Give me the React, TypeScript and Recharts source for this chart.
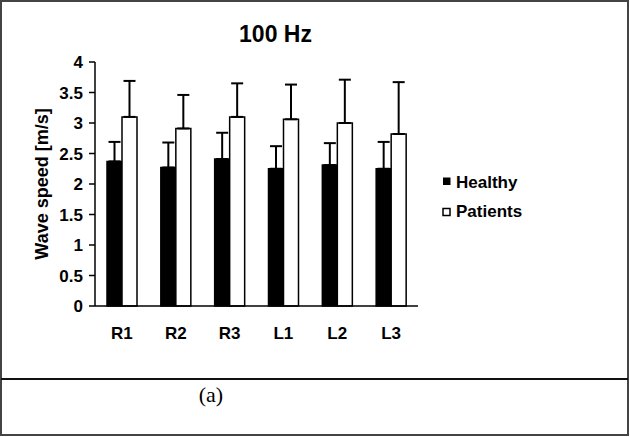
import React from 'react';
import { BarChart, Bar, XAxis, YAxis, ErrorBar, Legend } from 'recharts';

const categories = ['R1', 'R2', 'R3', 'L1', 'L2', 'L3'];
const healthy = [2.37, 2.27, 2.41, 2.25, 2.31, 2.25];
const healthySD = [0.32, 0.41, 0.43, 0.37, 0.36, 0.44];
const patients = [3.1, 2.91, 3.1, 3.06, 3.0, 2.82];
const patientsSD = [0.59, 0.55, 0.55, 0.57, 0.71, 0.85];
const yTicks = [0, 0.5, 1, 1.5, 2, 2.5, 3, 3.5, 4];

const data = categories.map((c, i) => ({
  name: c,
  Healthy: healthy[i],
  hErr: [0, healthySD[i]],
  Patients: patients[i],
  pErr: [0, patientsSD[i]],
}));

const FONT = '"Liberation Sans", Arial, sans-serif';

const LegendContent = () => (
  <svg width={150} height={60} style={{ display: 'block' }}>
    <rect x={3.5} y={8} width={6.5} height={6.5} fill="#000" stroke="#000" strokeWidth={1} />
    <text x={16} y={17.5} fontFamily={FONT} fontWeight="bold" fontSize={17} fill="#000">Healthy</text>
    <rect x={3} y={38.5} width={7} height={7} fill="#fff" stroke="#000" strokeWidth={1.5} />
    <text x={16} y={47} fontFamily={FONT} fontWeight="bold" fontSize={17} fill="#000">Patients</text>
  </svg>
);

const YLabel = (props: any) => {
  const vb = props.viewBox || { x: 0, y: 0, width: 0, height: 0 };
  const x = vb.x + 13;
  const y = vb.y + vb.height / 2;
  return (
    <text x={x} y={y} transform={`rotate(-90 ${x} ${y})`} textAnchor="middle" fontFamily={FONT} fontWeight="bold" fontSize={18} fill="#000">
      Wave speed [m/s]
    </text>
  );
};

export default function App() {
  return (
    <div style={{ position: 'absolute', left: 0, top: 0, width: 630, height: 437, background: '#fff' }}>
      <svg width={630} height={437} style={{ position: 'absolute', left: 0, top: 0 }}>
        <rect x={1} y={1} width={627} height={434} fill="#fff" stroke="#444" strokeWidth={2} />
        <line x1={1} y1={379} x2={628} y2={379} stroke="#111" strokeWidth={2} />
        <text x={275.5} y={41.5} textAnchor="middle" fontFamily={FONT} fontWeight="bold" fontSize={23} fill="#000">100 Hz</text>
        <text x={211} y={402} textAnchor="middle" fontFamily='"Liberation Serif", "Times New Roman", serif' fontSize={22} fill="#000">(a)</text>
      </svg>
      <div style={{ position: 'absolute', left: 0, top: 0 }}>
        <BarChart
          width={630}
          height={437}
          data={data}
          margin={{ top: 62, right: 212, bottom: 101, left: 35 }}
          barSize={15}
          barGap={0}
        >
          <XAxis
            dataKey="name"
            height={30}
            axisLine={{ stroke: '#000', strokeWidth: 1.5 }}
            tickLine={false}
            tickSize={6}
            tickMargin={15}
            tick={{ fontSize: 17, fontWeight: 'bold', fill: '#000', fontFamily: FONT }}
            interval={0}
          />
          <YAxis
            width={60}
            domain={[0, 4]}
            ticks={yTicks}
            interval={0}
            axisLine={{ stroke: '#000', strokeWidth: 1.5 }}
            tickLine={{ stroke: '#000', strokeWidth: 1.5 }}
            tickSize={6}
            tickMargin={6}
            tick={{ fontSize: 17, fontWeight: 'bold', fill: '#000', fontFamily: FONT }}
            label={{ content: YLabel }}
          />
          <Legend
            layout="vertical"
            align="center"
            verticalAlign="middle"
            wrapperStyle={{ left: 440, top: 170, width: 150, height: 60 }}
            content={LegendContent}
          />
          <Bar dataKey="Healthy" fill="#000" stroke="#000" strokeWidth={1.5} isAnimationActive={false}>
            <ErrorBar dataKey="hErr" width={6} stroke="#000" strokeWidth={2} direction="y" isAnimationActive={false} />
          </Bar>
          <Bar dataKey="Patients" fill="#fff" stroke="#000" strokeWidth={1.5} isAnimationActive={false}>
            <ErrorBar dataKey="pErr" width={6} stroke="#000" strokeWidth={2} direction="y" isAnimationActive={false} />
          </Bar>
        </BarChart>
      </div>
    </div>
  );
}
